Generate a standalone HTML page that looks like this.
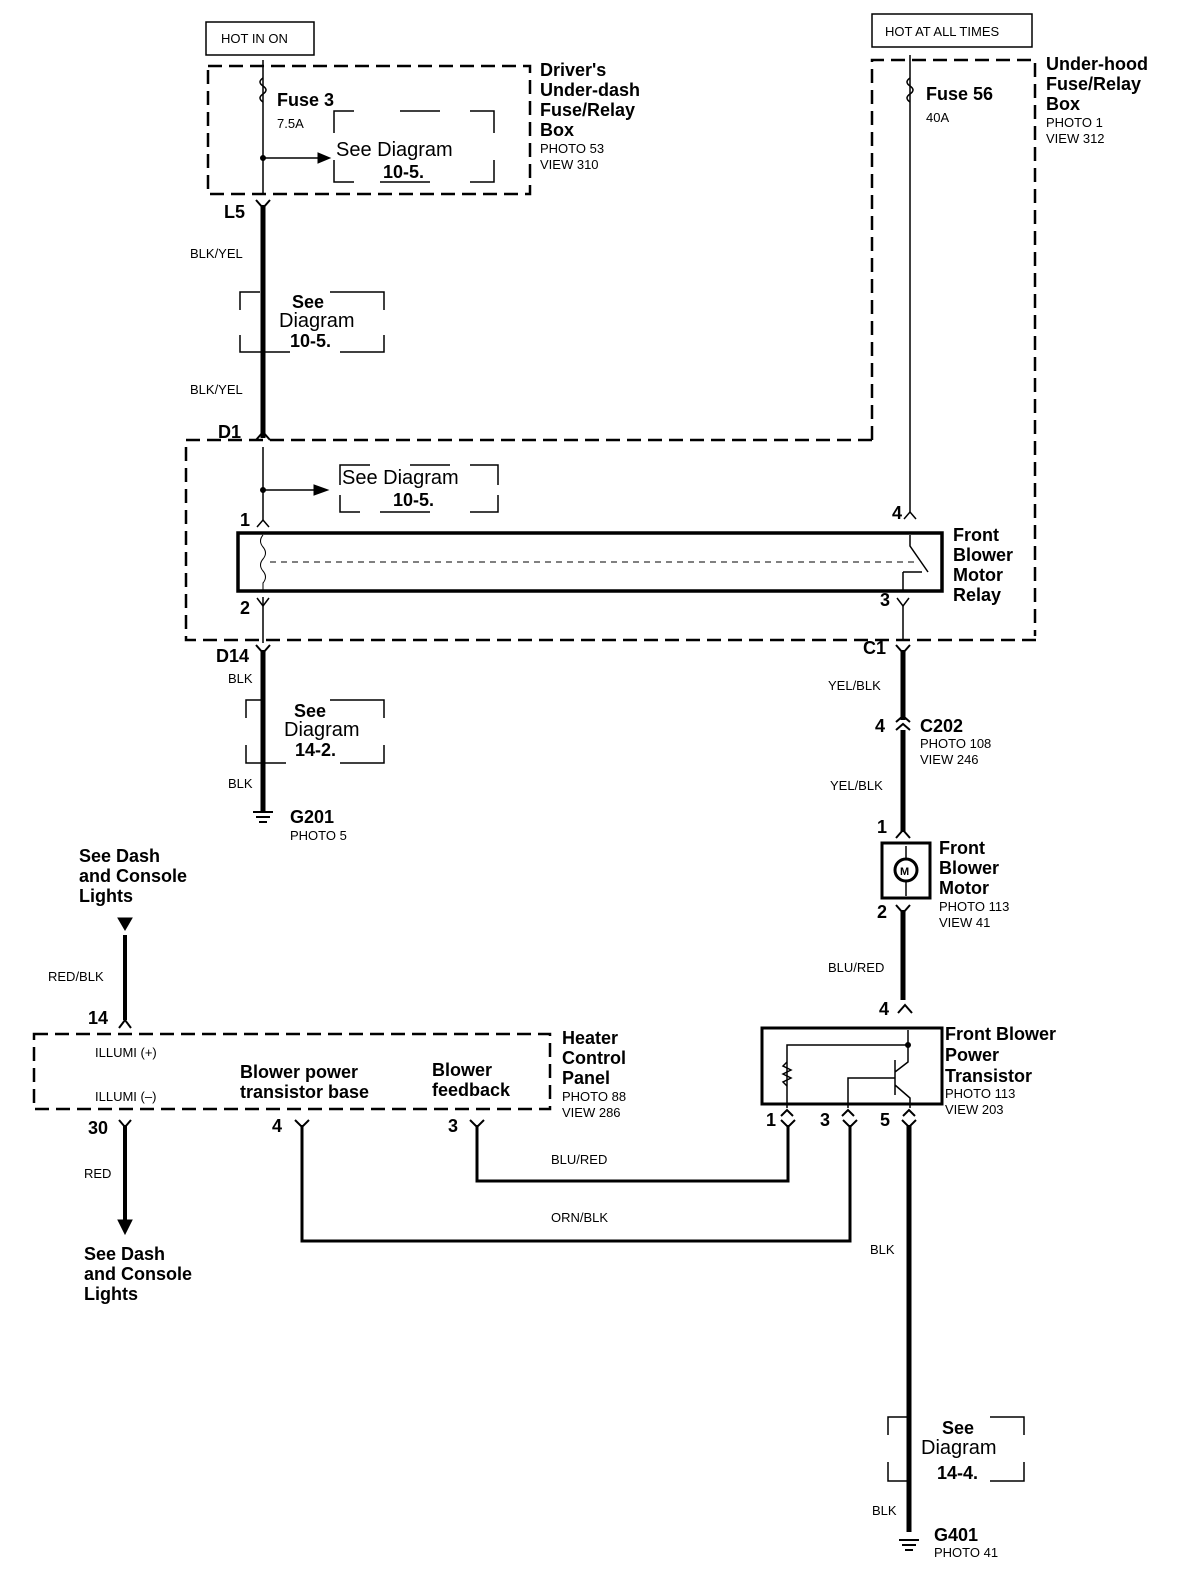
<!DOCTYPE html>
<html><head><meta charset="utf-8"><style>
html,body{margin:0;padding:0;background:#fff;}
svg{display:block;}
text{font-family:"Liberation Sans",Arial,sans-serif;fill:#000;}
.b{font-size:18px;font-weight:bold;}
.s{font-size:13px;}
.w{font-size:13px;}
.d{font-size:20px;}
</style></head><body>
<svg width="1200" height="1590" viewBox="0 0 1200 1590" xmlns="http://www.w3.org/2000/svg">
<g fill="none" stroke="#000">
<rect x="206" y="22" width="108" height="33" stroke-width="1.5"/>
<rect x="872" y="14" width="160" height="33" stroke-width="1.5"/>
<rect x="208" y="66" width="322" height="128" stroke-width="2.5" stroke-dasharray="14,7"/>
<path d="M872 440 L872 60 L1035 60 L1035 636" stroke-width="2.5" stroke-dasharray="14,7"/>
<path d="M872 440 L186 440 L186 640 L1038 640" stroke-width="2.5" stroke-dasharray="14,7"/>
<rect x="34" y="1034" width="516" height="75" stroke-width="2.5" stroke-dasharray="14,7"/>
<path d="M334 133v-22h20M400 111h40M470 111h24v22M334 160v22h20M380 182h50M470 182h24v-22" stroke-width="1.5"/>
<path d="M240 310v-18h20M330 292h54v18M240 335v17h50M340 352h44v-17" stroke-width="1.5"/>
<path d="M340 485v-20h30M410 465h40M470 465h28v20M340 495v17h20M380 512h50M470 512h28v-17" stroke-width="1.5"/>
<path d="M246 718v-18h16M330 700h54v18M246 745v18h40M340 763h44v-18" stroke-width="1.5"/>
<path d="M888 1435v-18h20M990 1417h34v18M888 1462v19h20M990 1481h34v-19" stroke-width="1.5"/>
<path d="M263 60 V195" stroke-width="1.5"/>
<path d="M263 78 q-6 4 0 8 q6 4 0 8 q-6 4 0 8" stroke-width="1.5"/>
<path d="M263 158 H320" stroke-width="1.5"/>
<path d="M318 153 L330 158 L318 163Z" fill="#000"/>
<circle cx="263" cy="158" r="2.5" fill="#000"/>
<path d="M263 205 V438" stroke-width="5"/>
<path d="M256 200 L263 208 L270 200 M256 440 L263 432 L270 440" stroke-width="2"/>
<path d="M263 447 V520 M263 597 V643" stroke-width="1.5"/>
<path d="M263 490 H316" stroke-width="1.5"/>
<path d="M314 485 L328 490 L314 495Z" fill="#000"/>
<circle cx="263" cy="490" r="2.5" fill="#000"/>
<path d="M257 527 L263 520 L269 527 M257 598 L263 606 L269 598" stroke-width="1.5"/>
<rect x="238" y="533" width="704" height="58" stroke-width="3.5"/>
<path d="M263 535 q-5 6 0 12 q5 6 0 12 q-5 6 0 12 q5 6 0 12 l0 8" stroke-width="1"/>
<path d="M270 562 H915" stroke-width="1" stroke-dasharray="6,5"/>
<path d="M910 535 V546 L928 572 M903 572 V590 M903 572 H922" stroke-width="1.5"/>
<path d="M910 55 V512" stroke-width="1.5"/>
<path d="M910 78 q-6 4 0 8 q6 4 0 8 q-6 4 0 8" stroke-width="1.5"/>
<path d="M904 519 L910 512 L916 519 M897 598 L903 606 L909 598" stroke-width="1.5"/>
<path d="M903 606 V640" stroke-width="1.5"/>
<path d="M263 650 V812" stroke-width="5"/>
<path d="M256 645 L263 653 L270 645" stroke-width="2"/>
<path d="M253 812 H273 M256 817 H270 M259 822 H267" stroke-width="2"/>
<path d="M903 650 V720 M903 730 V832" stroke-width="5"/>
<path d="M896 645 L903 653 L910 645 M896 722 L903 716 L910 722 M896 730 L903 724 L910 730 M896 838 L903 830 L910 838" stroke-width="2"/>
<rect x="882" y="843" width="48" height="55" stroke-width="3"/>
<circle cx="906" cy="870" r="11" stroke-width="3"/>
<path d="M906 846 V859 M906 881 V896" stroke-width="1.5"/>
<path d="M903 910 V1000" stroke-width="5"/>
<path d="M896 905 L903 913 L910 905 M898 1013 L905 1005 L912 1013" stroke-width="2"/>
<rect x="762" y="1028" width="180" height="76" stroke-width="3"/>
<path d="M908 1030 V1045 L787 1045 V1108 M908 1045 V1062 L895 1072 M895 1060 V1095 M895 1085 L910 1098 V1108 M895 1078 H848 V1108" stroke-width="1.5"/>
<path d="M787 1062 l-4 4 l8 4 l-8 4 l8 4 l-8 4 l4 4" stroke-width="1.5"/>
<circle cx="908" cy="1045" r="2.5" fill="#000"/>
<path d="M781 1116 L787 1110 L793 1116 M842 1116 L848 1110 L854 1116 M903 1116 L909 1110 L915 1116" stroke-width="2"/>
<path d="M781 1120 L788 1127 L795 1120 M843 1120 L850 1127 L857 1120 M902 1120 L909 1127 L916 1120" stroke-width="2"/>
<path d="M295 1120 L302 1127 L309 1120 M470 1120 L477 1127 L484 1120" stroke-width="2"/>
<path d="M302 1125 V1241 H850 V1125" stroke-width="3"/>
<path d="M477 1125 V1181 H788 V1125" stroke-width="3"/>
<path d="M909 1125 V1532" stroke-width="5"/>
<path d="M899 1540 H919 M902 1545 H916 M905 1550 H913" stroke-width="2"/>
<path d="M125 935 V1020" stroke-width="4"/>
<path d="M118 918 H132 L125 930Z" fill="#000"/>
<path d="M119 1028 L125 1020 L131 1028" stroke-width="2"/>
<path d="M119 1120 L125 1127 L131 1120" stroke-width="2"/>
<path d="M125 1125 V1222" stroke-width="4"/>
<path d="M118 1220 H132 L125 1234Z" fill="#000"/>
</g>
<g>
<text x="221" y="43" class="s">HOT IN ON</text>
<text x="885" y="36" class="s">HOT AT ALL TIMES</text>
<text x="277" y="106" class="b">Fuse 3</text>
<text x="277" y="128" class="s">7.5A</text>
<text x="336" y="156" class="d">See Diagram</text>
<text x="383" y="178" class="b">10-5.</text>
<text x="540" y="76" class="b">Driver's</text>
<text x="540" y="96" class="b">Under-dash</text>
<text x="540" y="116" class="b">Fuse/Relay</text>
<text x="540" y="136" class="b">Box</text>
<text x="540" y="153" class="s">PHOTO 53</text>
<text x="540" y="169" class="s">VIEW 310</text>
<text x="926" y="100" class="b">Fuse 56</text>
<text x="926" y="122" class="s">40A</text>
<text x="1046" y="70" class="b">Under-hood</text>
<text x="1046" y="90" class="b">Fuse/Relay</text>
<text x="1046" y="110" class="b">Box</text>
<text x="1046" y="127" class="s">PHOTO 1</text>
<text x="1046" y="143" class="s">VIEW 312</text>
<text x="224" y="218" class="b">L5</text>
<text x="190" y="258" class="w">BLK/YEL</text>
<text x="292" y="308" class="b">See</text>
<text x="279" y="327" class="d">Diagram</text>
<text x="290" y="347" class="b">10-5.</text>
<text x="190" y="394" class="w">BLK/YEL</text>
<text x="218" y="438" class="b">D1</text>
<text x="342" y="484" class="d">See Diagram</text>
<text x="393" y="506" class="b">10-5.</text>
<text x="240" y="526" class="b">1</text>
<text x="240" y="614" class="b">2</text>
<text x="892" y="519" class="b">4</text>
<text x="880" y="606" class="b">3</text>
<text x="953" y="541" class="b">Front</text>
<text x="953" y="561" class="b">Blower</text>
<text x="953" y="581" class="b">Motor</text>
<text x="953" y="601" class="b">Relay</text>
<text x="216" y="662" class="b">D14</text>
<text x="228" y="683" class="w">BLK</text>
<text x="294" y="717" class="b">See</text>
<text x="284" y="736" class="d">Diagram</text>
<text x="295" y="756" class="b">14-2.</text>
<text x="228" y="788" class="w">BLK</text>
<text x="290" y="823" class="b">G201</text>
<text x="290" y="840" class="s">PHOTO 5</text>
<text x="863" y="654" class="b">C1</text>
<text x="828" y="690" class="w">YEL/BLK</text>
<text x="875" y="732" class="b">4</text>
<text x="920" y="732" class="b">C202</text>
<text x="920" y="748" class="s">PHOTO 108</text>
<text x="920" y="764" class="s">VIEW 246</text>
<text x="830" y="790" class="w">YEL/BLK</text>
<text x="877" y="833" class="b">1</text>
<text x="900" y="875" font-size="11" font-weight="bold">M</text>
<text x="939" y="854" class="b">Front</text>
<text x="939" y="874" class="b">Blower</text>
<text x="939" y="894" class="b">Motor</text>
<text x="939" y="911" class="s">PHOTO 113</text>
<text x="939" y="927" class="s">VIEW 41</text>
<text x="877" y="918" class="b">2</text>
<text x="828" y="972" class="w">BLU/RED</text>
<text x="879" y="1015" class="b">4</text>
<text x="945" y="1040" class="b">Front Blower</text>
<text x="945" y="1061" class="b">Power</text>
<text x="945" y="1082" class="b">Transistor</text>
<text x="945" y="1098" class="s">PHOTO 113</text>
<text x="945" y="1114" class="s">VIEW 203</text>
<text x="766" y="1126" class="b">1</text>
<text x="820" y="1126" class="b">3</text>
<text x="880" y="1126" class="b">5</text>
<text x="79" y="862" class="b">See Dash</text>
<text x="79" y="882" class="b">and Console</text>
<text x="79" y="902" class="b">Lights</text>
<text x="48" y="981" class="w">RED/BLK</text>
<text x="88" y="1024" class="b">14</text>
<text x="95" y="1057" class="s">ILLUMI (+)</text>
<text x="95" y="1101" class="s">ILLUMI (–)</text>
<text x="240" y="1078" class="b">Blower power</text>
<text x="240" y="1098" class="b">transistor base</text>
<text x="432" y="1076" class="b">Blower</text>
<text x="432" y="1096" class="b">feedback</text>
<text x="562" y="1044" class="b">Heater</text>
<text x="562" y="1064" class="b">Control</text>
<text x="562" y="1084" class="b">Panel</text>
<text x="562" y="1101" class="s">PHOTO 88</text>
<text x="562" y="1117" class="s">VIEW 286</text>
<text x="88" y="1134" class="b">30</text>
<text x="272" y="1132" class="b">4</text>
<text x="448" y="1132" class="b">3</text>
<text x="84" y="1178" class="w">RED</text>
<text x="84" y="1260" class="b">See Dash</text>
<text x="84" y="1280" class="b">and Console</text>
<text x="84" y="1300" class="b">Lights</text>
<text x="551" y="1164" class="w">BLU/RED</text>
<text x="551" y="1222" class="w">ORN/BLK</text>
<text x="870" y="1254" class="w">BLK</text>
<text x="942" y="1434" class="b">See</text>
<text x="921" y="1454" class="d">Diagram</text>
<text x="937" y="1479" class="b">14-4.</text>
<text x="872" y="1515" class="w">BLK</text>
<text x="934" y="1541" class="b">G401</text>
<text x="934" y="1557" class="s">PHOTO 41</text>
</g>
</svg>
</body></html>
